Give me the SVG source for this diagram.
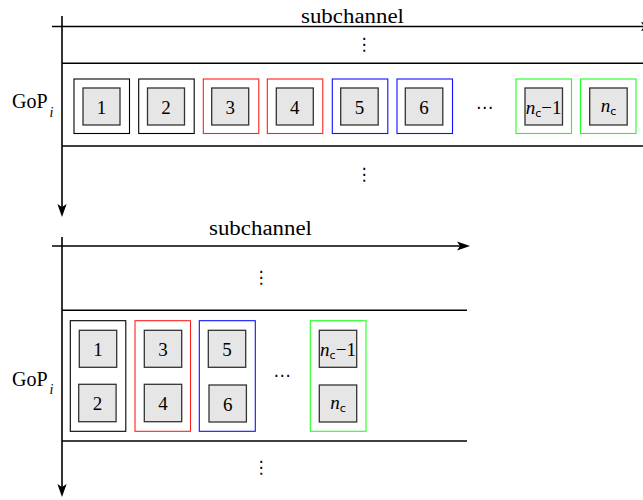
<svg xmlns="http://www.w3.org/2000/svg" width="643" height="500" viewBox="0 0 643 500">
<style>
.t{font-family:"Liberation Serif","Times New Roman",serif;fill:#000}
.lab{font-size:20px}
.num{font-size:19px;text-anchor:middle}
.sym{font-family:"DejaVu Sans",sans-serif;font-size:17px;text-anchor:middle;fill:#000}
.ax{stroke:#000;stroke-width:1.6;fill:none}
.sep{stroke:#000;stroke-width:1.6;fill:none}
.in{fill:#e6e6e6;stroke:#333;stroke-width:1.3}
.o{fill:none;stroke-width:1.1}
.ok{stroke:#000}
.or{stroke:#ff2020}
.ob{stroke:#1010ff}
.og{stroke:#20ff20}
.sub{font-family:"DejaVu Sans",sans-serif;font-size:11px}
</style>
<defs>
<marker id="ah" viewBox="-14 -5 15 10" refX="-8" refY="0" markerWidth="15" markerHeight="10" markerUnits="userSpaceOnUse" orient="auto">
<path d="M0,0 L-13,-4.6 L-10,0 L-13,4.6 Z" fill="#000"/>
</marker>
</defs>

<g id="connectors">
<line class="ax" x1="62" y1="16" x2="62" y2="209" marker-end="url(#ah)"/>
<line class="ax" x1="52" y1="26.5" x2="646" y2="26.5" marker-end="url(#ah)"/>
<line class="sep" x1="62" y1="63.3" x2="643" y2="63.3"/>
<line class="sep" x1="62" y1="146" x2="643" y2="146"/>
<line class="ax" x1="62" y1="237" x2="62" y2="489" marker-end="url(#ah)"/>
<line class="ax" x1="52" y1="246" x2="462" y2="246" marker-end="url(#ah)"/>
<line class="sep" x1="62" y1="310.3" x2="467" y2="310.3"/>
<line class="sep" x1="62" y1="441" x2="467" y2="441"/>
</g>

<g id="labels-top">
<text class="t lab" x="301" y="22.5" textLength="103" lengthAdjust="spacingAndGlyphs">subchannel</text>
<text class="t lab" x="12" y="108.3">GoP<tspan font-size="14" font-style="italic" dx="2" dy="8.4">i</tspan></text>
<text class="sym" x="364" y="50">⋮</text>
<text class="sym" x="364" y="180">⋮</text>
<text class="sym" x="484.5" y="113">⋯</text>
</g>

<g id="top-1"><rect class="o ok" x="74" y="79" width="55.5" height="54.5"/><rect class="in" x="83" y="88" width="37" height="37"/><text class="t num" x="101.5" y="113.5">1</text></g>
<g id="top-2"><rect class="o ok" x="138.7" y="79" width="55.5" height="54.5"/><rect class="in" x="147.5" y="88" width="37" height="37"/><text class="t num" x="166" y="113.5">2</text></g>
<g id="top-3"><rect class="o or" x="203.3" y="79" width="55.5" height="54.5"/><rect class="in" x="211.7" y="88" width="37" height="37"/><text class="t num" x="230.2" y="113.5">3</text></g>
<g id="top-4"><rect class="o or" x="267.3" y="79" width="55.5" height="54.5"/><rect class="in" x="276.3" y="88" width="37" height="37"/><text class="t num" x="294.8" y="113.5">4</text></g>
<g id="top-5"><rect class="o ob" x="332.3" y="79" width="55.5" height="54.5"/><rect class="in" x="340.7" y="88" width="37.5" height="37"/><text class="t num" x="359.5" y="113.5">5</text></g>
<g id="top-6"><rect class="o ob" x="397" y="79" width="55.5" height="54.5"/><rect class="in" x="405.3" y="88" width="37.5" height="37"/><text class="t num" x="424" y="113.5">6</text></g>
<g id="top-nc1"><rect class="o og" x="516" y="79" width="55.5" height="54.5"/><rect class="in" x="525" y="88" width="37.5" height="37"/><text class="t num" x="543.7" y="113.5"><tspan font-style="italic">n</tspan><tspan class="sub" dy="3">c</tspan><tspan dy="-3">−1</tspan></text></g>
<g id="top-nc"><rect class="o og" x="580.5" y="79" width="55.5" height="54.5"/><rect class="in" x="589.7" y="88" width="37.5" height="37"/><text class="t num" x="608.5" y="111.5"><tspan font-style="italic">n</tspan><tspan class="sub" dy="3">c</tspan></text></g>

<g id="labels-bottom">
<text class="t lab" x="209" y="235" textLength="103" lengthAdjust="spacingAndGlyphs">subchannel</text>
<text class="t lab" x="12" y="386">GoP<tspan font-size="14" font-style="italic" dx="2" dy="8.4">i</tspan></text>
<text class="sym" x="261" y="283">⋮</text>
<text class="sym" x="261" y="473">⋮</text>
<text class="sym" x="282" y="381">⋯</text>
</g>

<g id="col-1"><rect class="o ok" x="70.3" y="320.7" width="55.5" height="110.6"/>
<rect class="in" x="79.3" y="330.3" width="37.4" height="37"/><text class="t num" x="98" y="355.8">1</text>
<rect class="in" x="78.7" y="384.3" width="37.4" height="37.4"/><text class="t num" x="97.4" y="410">2</text></g>
<g id="col-2"><rect class="o or" x="135" y="320.7" width="55.5" height="110.6"/>
<rect class="in" x="144.3" y="330.3" width="37.4" height="37"/><text class="t num" x="163" y="355.8">3</text>
<rect class="in" x="144.3" y="384.3" width="37.4" height="37.4"/><text class="t num" x="163" y="410">4</text></g>
<g id="col-3"><rect class="o ob" x="199.3" y="320.7" width="56" height="110.6"/>
<rect class="in" x="208.3" y="330.3" width="37.4" height="37"/><text class="t num" x="227" y="355.8">5</text>
<rect class="in" x="209" y="385" width="37.4" height="37"/><text class="t num" x="227.7" y="410.5">6</text></g>
<g id="col-4"><rect class="o og" x="310.3" y="320.7" width="55.7" height="110.6"/>
<rect class="in" x="319.3" y="330.3" width="37.4" height="37"/><text class="t num" x="338" y="355.8"><tspan font-style="italic">n</tspan><tspan class="sub" dy="3">c</tspan><tspan dy="-3">−1</tspan></text>
<rect class="in" x="319.3" y="385" width="37.4" height="37"/><text class="t num" x="338" y="408.5"><tspan font-style="italic">n</tspan><tspan class="sub" dy="3">c</tspan></text></g>
</svg>
